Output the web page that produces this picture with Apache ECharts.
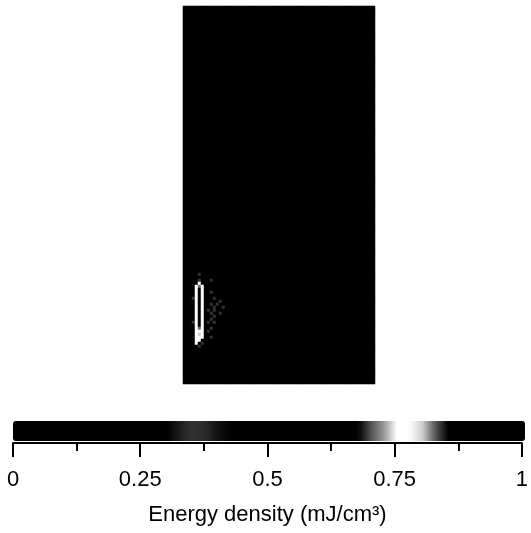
<!DOCTYPE html>
<html>
<head>
<meta charset="utf-8">
<script src="https://cdn.jsdelivr.net/npm/echarts@6/dist/echarts.min.js"></script>
<style>
html,body{margin:0;padding:0;background:#fff;}
#chart{width:531px;height:533px;}
</style>
</head>
<body>
<div id="chart"></div>
<script>
// ---- data ----
// field: 64 x 126 cells, almost uniformly at the bottom of the scale
var nCols = 64;
var nRows = 126;
var fieldLevel = 0.0;
// the only structure: a narrow bright ring near the lower-left corner
var patchCol0 = 1;
var patchRow0 = 88;
var patchRows = [
  "..............",
  "....s.........",
  "..............",
  "....s...s.....",
  "....w.........",
  "...wgw........",
  "...w.w........",
  "...w.w..s.....",
  "...w.w........",
  "..sw.w...s....",
  "...w.w.....s..",
  "...w.w..s.s...",
  "...w.w...s..s.",
  "...w.w.s.s....",
  "...w.w..s..s..",
  "...w.w...s....",
  "...w.w..s.....",
  "..sw.w.s.s....",
  "...w.w........",
  "...wgw..s.....",
  "...www.s......",
  "...wlw........",
  "...www..s.....",
  "...ww.........",
  "...w.s........",
  "....s.........",
  ".............."
];
var patchValues = {".": 0.0, "s": 0.35, "g": 0.71, "w": 0.77, "l": 0.8};

// colour scale
var scaleMin = 0;
var scaleMax = 1;
var tickValues = [0, 0.25, 0.5, 0.75, 1];
var tickLabels = ["0", "0.25", "0.5", "0.75", "1"];
var axisTitle = "Energy density (mJ/cm\u00B3)";

// ---- styles ----
var scaleStops = { // index k -> value k/40
  13: "#1c1c1c", 14: "#333333", 15: "#2a2a2a", 16: "#111111",
  28: "#555555", 29: "#999999", 30: "#ffffff", 31: "#ffffff",
  32: "#cccccc", 33: "#555555"
};
var scaleColors = [];
for (var k = 0; k <= 40; k++) scaleColors.push(scaleStops[k] || "#000000");

// ---- build series data ----
var xCats = [], yCats = [];
for (var c = 0; c < nCols; c++) xCats.push(String(c));
for (var r = 0; r < nRows; r++) yCats.push(String(r));
var cells = [];
for (var r = 0; r < nRows; r++) {
  for (var c = 0; c < nCols; c++) {
    var v = fieldLevel;
    var pr = r - patchRow0, pc = c - patchCol0;
    if (pr >= 0 && pr < patchRows.length && pc >= 0 && pc < patchRows[pr].length) {
      v = patchValues[patchRows[pr].charAt(pc)];
    }
    cells.push([c, r, v]);
  }
}

var FONT = "'Liberation Sans', Arial, Helvetica, sans-serif";
var chart = echarts.init(document.getElementById('chart'), null, {renderer: 'canvas'});
chart.setOption({
  animation: false,
  backgroundColor: '#ffffff',
  grid: [
    {left: 183, top: 6, width: 192, height: 378, show: false},
    {left: 13, top: 421, width: 510, height: 22, show: false}
  ],
  xAxis: [
    {gridIndex: 0, type: 'category', data: xCats, show: false},
    {gridIndex: 1, type: 'value', min: scaleMin, max: scaleMax, interval: 0.25,
     axisLine: {show: true, lineStyle: {color: '#000', width: 2}},
     axisTick: {show: true, inside: false, length: 14, lineStyle: {color: '#000', width: 2}},
     minorTick: {show: true, splitNumber: 2, length: 8, lineStyle: {color: '#000', width: 2}},
     splitLine: {show: false},
     axisLabel: {margin: 26, fontSize: 22, color: '#000', fontFamily: FONT,
       formatter: function (val) {
         var i = tickValues.indexOf(Math.round(val * 100) / 100);
         return i >= 0 ? tickLabels[i] : '';
       }},
     name: axisTitle, nameLocation: 'middle', nameGap: 61,
     nameTextStyle: {fontSize: 22, color: '#000', fontFamily: FONT}
    }
  ],
  yAxis: [
    {gridIndex: 0, type: 'category', data: yCats, inverse: true, show: false},
    {gridIndex: 1, type: 'value', show: false, min: 0, max: 1}
  ],
  visualMap: {
    type: 'continuous',
    seriesIndex: 0,
    min: scaleMin, max: scaleMax,
    orient: 'horizontal',
    left: 13, top: 421,
    itemWidth: 20, itemHeight: 512,
    padding: 0,
    calculable: false,
    hoverLink: false,
    text: null,
    inRange: {color: scaleColors}
  },
  series: [{
    type: 'heatmap',
    xAxisIndex: 0, yAxisIndex: 0,
    data: cells,
    progressive: 0,
    itemStyle: {borderWidth: 0},
    emphasis: {disabled: true}
  }]
});
</script>
</body>
</html>
